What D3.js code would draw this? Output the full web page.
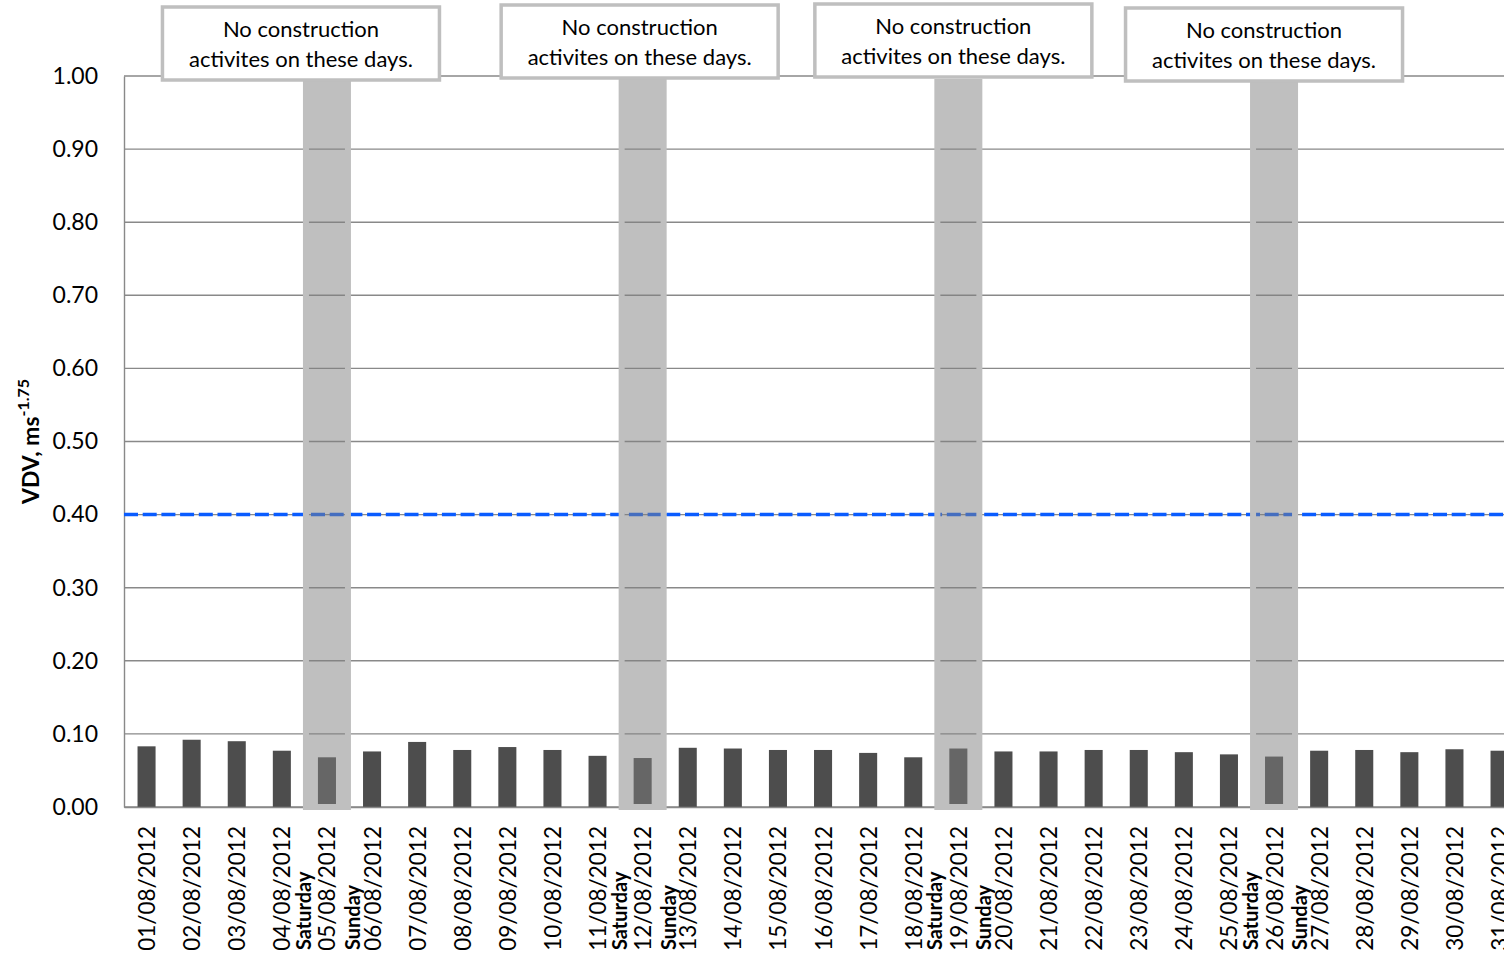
<html>
<head>
<title>VDV chart</title>
<script src="https://cdnjs.cloudflare.com/ajax/libs/d3/7.8.5/d3.min.js"></script>
<style>
  body { margin: 0; background: #fff; }
  text { font-family: Lato, "Open Sans", sans-serif; fill: #000; }
</style>
</head>
<body>
<svg id="chart" width="1504" height="954"></svg>
<script>
// data
var days = ["01/08/2012","02/08/2012","03/08/2012","04/08/2012","05/08/2012","06/08/2012",
  "07/08/2012","08/08/2012","09/08/2012","10/08/2012","11/08/2012","12/08/2012","13/08/2012",
  "14/08/2012","15/08/2012","16/08/2012","17/08/2012","18/08/2012","19/08/2012","20/08/2012",
  "21/08/2012","22/08/2012","23/08/2012","24/08/2012","25/08/2012","26/08/2012","27/08/2012",
  "28/08/2012","29/08/2012","30/08/2012","31/08/2012"];
var vdv = [0.083,0.092,0.090,0.077,0.068,0.076,0.089,0.078,0.082,0.078,0.070,0.067,0.081,
  0.080,0.078,0.078,0.074,0.068,0.080,0.076,0.076,0.078,0.078,0.075,0.072,0.069,0.077,
  0.078,0.075,0.079,0.077];
var yTicks = [0,0.1,0.2,0.3,0.4,0.5,0.6,0.7,0.8,0.9,1.0];
var limit = 0.40;
var noWorkDays = ["05/08/2012","12/08/2012","19/08/2012","26/08/2012"];
var noteLines = ["No construction", "activites on these days."];
// box offsets from the shaded day (x) and top (y)
var noteOffsets = [[-26, 7], [-3, 5], [-5, 4], [-10, 8]];

var svg = d3.select('#chart');
var plotLeft = 124, plotTop = 76, plotBottom = 807, step = 45.1;

var x = d3.scaleBand()
    .domain(days)
    .range([plotLeft, plotLeft + step * days.length])
    .paddingInner(0.6)
    .paddingOuter(0.3);
var y = d3.scaleLinear().domain([0, 1]).range([plotBottom, plotTop]);

// gridlines
svg.append('g').selectAll('line')
    .data(yTicks)
    .enter().append('line')
    .attr('x1', plotLeft).attr('x2', 1504)
    .attr('y1', function (d) { return y(d); })
    .attr('y2', function (d) { return y(d); })
    .attr('stroke', '#898989')
    .attr('stroke-width', 1.4);

// y axis
var yAxis = d3.axisLeft(y).tickValues(yTicks).tickFormat(d3.format('.2f')).tickSize(0).tickPadding(26);
var yg = svg.append('g').attr('transform', 'translate(' + plotLeft + ',0)').call(yAxis);
yg.select('.domain').attr('stroke', '#898989').attr('stroke-width', 1.4);
yg.selectAll('text').style('font-size', '23px').attr('fill', '#000');

// bars
svg.append('g').selectAll('rect')
    .data(vdv)
    .enter().append('rect')
    .attr('x', function (d, i) { return x(days[i]); })
    .attr('width', x.bandwidth())
    .attr('y', function (d) { return y(d); })
    .attr('height', function (d) { return y(0) - y(d); })
    .attr('fill', '#4d4d4d');

// x axis
var xAxis = d3.axisBottom(x).tickSize(0);
var xg = svg.append('g').attr('transform', 'translate(0,' + plotBottom + ')').call(xAxis);
xg.select('.domain').attr('stroke', '#898989').attr('stroke-width', 1.4);
xg.selectAll('text')
    .style('font-size', '22.5px')
    .attr('fill', '#000')
    .attr('text-anchor', 'end')
    .attr('transform', 'rotate(-90)')
    .attr('x', -19)
    .attr('y', 8.5)
    .attr('dy', null);

// limit line
svg.append('line')
    .attr('x1', plotLeft).attr('x2', 1504)
    .attr('y1', y(limit)).attr('y2', y(limit))
    .attr('stroke', '#0a5cff')
    .attr('stroke-width', 3.5)
    .attr('stroke-dasharray', '14,4.7');

// shaded weekend bands
var bw = 48, inset = 6;
svg.append('g').selectAll('rect')
    .data(noWorkDays)
    .enter().append('rect')
    .attr('x', function (d) { return x(d) + x.bandwidth() / 2 - bw / 2 + inset / 2; })
    .attr('y', 79 + inset / 2)
    .attr('width', bw - inset)
    .attr('height', 810 - 79 - inset)
    .attr('fill', '#808080')
    .attr('fill-opacity', 0.5)
    .attr('stroke', '#bfbfbf')
    .attr('stroke-width', inset);

// Saturday / Sunday labels
var wk = svg.append('g');
noWorkDays.forEach(function (d) {
  var cx = x(d) + x.bandwidth() / 2;
  [['Saturday', -16], ['Sunday', 33]].forEach(function (s) {
    wk.append('text')
      .attr('transform', 'translate(' + (cx + s[1]) + ',0) rotate(-90)')
      .attr('x', -950)
      .attr('y', 0)
      .style('font-size', '20px')
      .style('font-weight', 'bold')
      .text(s[0]);
  });
});

// note boxes
var notes = svg.append('g').selectAll('g')
    .data(noWorkDays)
    .enter().append('g')
    .attr('transform', function (d, i) {
      var cx = x(d) + x.bandwidth() / 2 + noteOffsets[i][0];
      return 'translate(' + cx + ',' + noteOffsets[i][1] + ')';
    });
notes.append('rect')
    .attr('x', -138.5).attr('y', 0)
    .attr('width', 277).attr('height', 73)
    .attr('fill', '#fff')
    .attr('stroke', '#bfbfbf')
    .attr('stroke-width', 3.5);
notes.each(function () {
  var g = d3.select(this);
  noteLines.forEach(function (t, k) {
    g.append('text')
      .attr('x', 0).attr('y', 30 + k * 30)
      .attr('text-anchor', 'middle')
      .style('font-size', '22px')
      .text(t);
  });
});

// y title
var yt = svg.append('text')
    .attr('transform', 'translate(39,' + ((plotTop + plotBottom) / 2) + ') rotate(-90)')
    .attr('text-anchor', 'middle')
    .style('font-size', '23px')
    .style('font-weight', 'bold');
yt.append('tspan').text('VDV, ms');
yt.append('tspan').attr('dy', -10).style('font-size', '16px').text('-1.75');
</script>
</body>
</html>
